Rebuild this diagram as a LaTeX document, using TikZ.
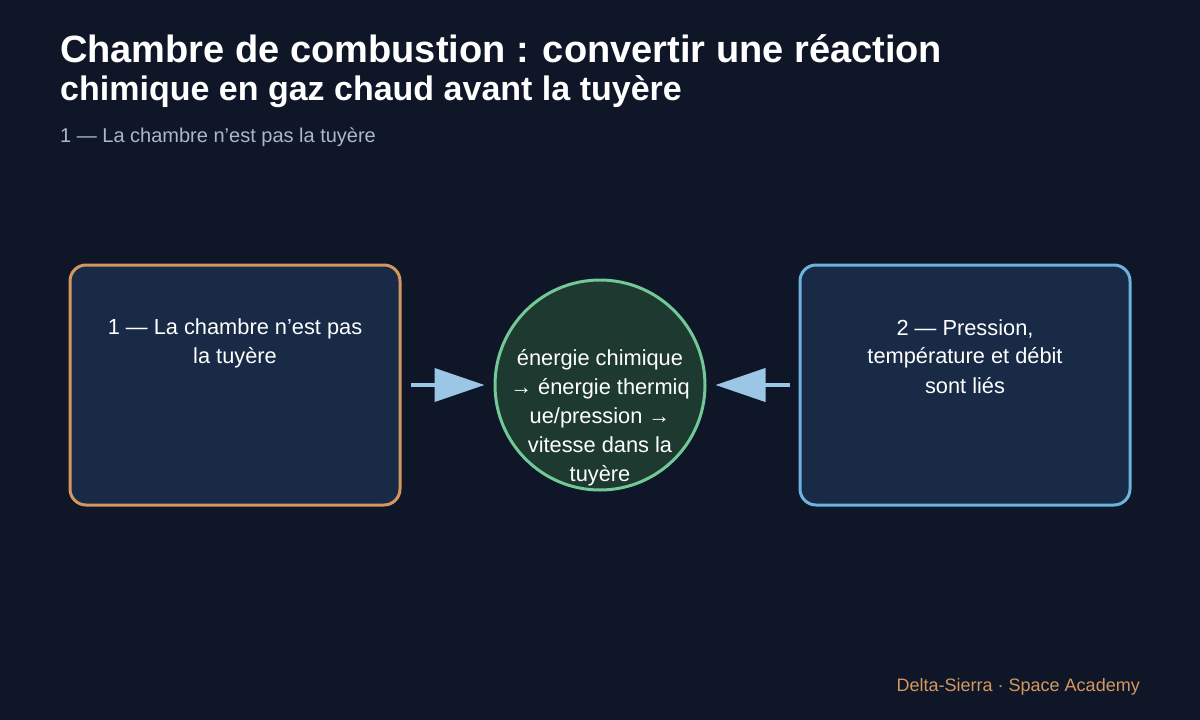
\documentclass[tikz,border=0pt]{standalone}
\usepackage{fontspec}
\setmainfont{Liberation Sans}
\usetikzlibrary{arrows.meta}

\definecolor{bgc}{HTML}{0E1627}
\definecolor{boxfill}{HTML}{182A45}
\definecolor{circfill}{HTML}{1E3A30}
\definecolor{orangeline}{HTML}{D4975F}
\definecolor{blueline}{HTML}{6DB3E0}
\definecolor{greenline}{HTML}{72C896}
\definecolor{arrowc}{HTML}{9CC6E6}
\definecolor{subc}{HTML}{A9B8CC}

\begin{document}
\begin{tikzpicture}[x=1pt, y=1pt, >={Triangle[length=50pt,width=33pt]}]
    \tikzstyle{every node}=[text=white, inner sep=0pt]
    \tikzstyle{h1}=[anchor=base west, font=\bfseries\fontsize{38}{44}\selectfont]
    \tikzstyle{h2}=[anchor=base west, font=\bfseries\fontsize{34}{40}\selectfont]
    \tikzstyle{sub}=[anchor=base west, text=subc, font=\fontsize{20}{24}\selectfont]
    \tikzstyle{block}=[shape=rectangle, rounded corners=16pt, fill=boxfill, line width=3pt, minimum width=330pt, minimum height=240pt]
    \tikzstyle{hub}=[shape=circle, fill=circfill, draw=greenline, line width=3pt, minimum size=210pt]
    \tikzstyle{lbl}=[anchor=north, align=center, font=\fontsize{21.8}{29}\selectfont]
    \tikzstyle{flow}=[->, draw=arrowc, line width=4pt, shorten <=9pt, shorten >=9pt]

    \useasboundingbox (0,0) rectangle (1200,-720);
    \fill[bgc] (0,0) rectangle (1200,-720);

    \node[h1]   (t1) at (60,-62)  {Chambre de combustion : convertir une réaction};
    \node[h2]   (t2) at (60,-100) {chimique en gaz chaud avant la tuyère};
    \node[sub]  (st) at (60,-142) {1 — La chambre n’est pas la tuyère};

    \node[block, draw=orangeline] (b1) at (235,-385) {};
        \node[lbl]  (b1t) at (235,-319) {1 — La chambre n’est pas\\la tuyère};
    \node[hub]  (c1) at (600,-385) {};
        \node[lbl]  (c1t) at (600,-349) {énergie chimique\\→ énergie thermiq\\ue/pression →\\vitesse dans la\\tuyère};
    \node[block, draw=blueline] (b2) at (965,-385) {};
        \node[lbl]  (b2t) at (965,-319) {2 — Pression,\\température et débit\\sont liés};

    \node[anchor=base east, text=orangeline, font=\fontsize{18}{22}\selectfont] (ft) at (1140,-691) {Delta-Sierra · Space Academy};

    \path
    (b1)    edge[flow]  node{} (c1)
    (b2)    edge[flow]  node{} (c1)
            ;

\end{tikzpicture}
\end{document}
